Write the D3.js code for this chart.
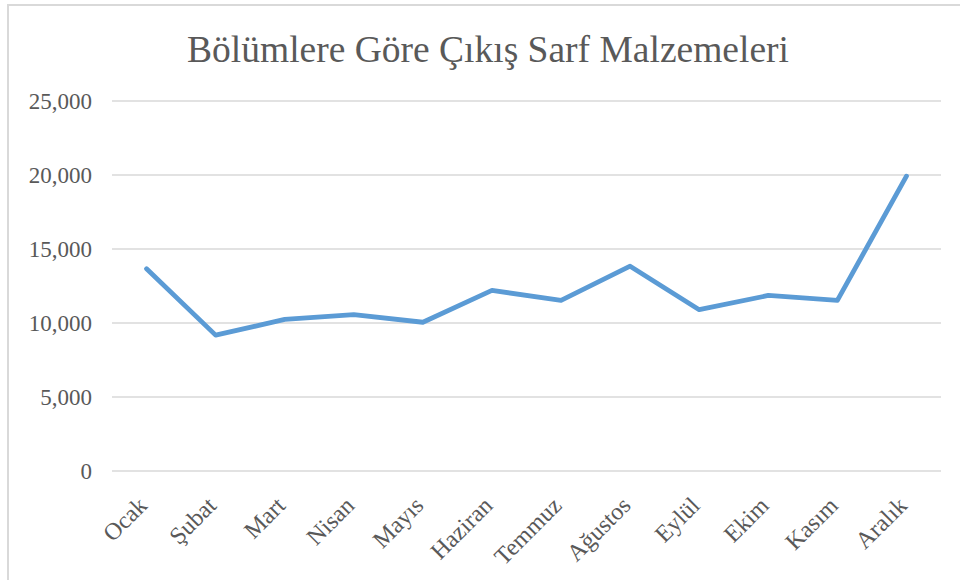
<!DOCTYPE html>
<html lang="tr">
<meta charset="UTF-8">
<style>
    body { margin: 0; background: #fff; }
    text { font-family: "Liberation Serif", "Times New Roman", serif; fill: #595959; }
    .grid line { stroke: #d9d9d9; stroke-width: 1.3; }
</style>
<body>
<div id="chart"></div>
<script src="https://cdn.jsdelivr.net/npm/d3@7"></script>
<script>
    // data
    var months = ["Ocak", "Şubat", "Mart", "Nisan", "Mayıs", "Haziran",
                  "Temmuz", "Ağustos", "Eylül", "Ekim", "Kasım", "Aralık"];
    var values = [13660, 9180, 10240, 10570, 10050, 12200,
                  11530, 13840, 10900, 11860, 11530, 19920];
    var yTicks = [0, 5000, 10000, 15000, 20000, 25000];
    var title = "Bölümlere Göre Çıkış Sarf Malzemeleri";

    var width = 960, height = 580;
    var margin = {top: 101, right: 19, bottom: 109, left: 112};

    var svg = d3.select("#chart").append("svg")
        .attr("width", width)
        .attr("height", height);

    // chart frame
    svg.append("rect")
        .attr("x", 8).attr("y", 5)
        .attr("width", 1000).attr("height", 1000)
        .attr("fill", "none")
        .attr("stroke", "#d9d9d9")
        .attr("stroke-width", 2);

    svg.append("text")
        .attr("x", 488)
        .attr("y", 62)
        .attr("text-anchor", "middle")
        .style("font-size", "37.5px")
        .text(title);

    var x = d3.scaleBand()
        .domain(months)
        .range([margin.left, width - margin.right]);

    var y = d3.scaleLinear()
        .domain([0, 25000])
        .range([height - margin.bottom, margin.top]);

    var grid = svg.append("g").attr("class", "grid");
    grid.selectAll("line")
        .data(yTicks)
        .enter().append("line")
        .attr("x1", margin.left)
        .attr("x2", width - margin.right)
        .attr("y1", function(d){ return y(d); })
        .attr("y2", function(d){ return y(d); });

    svg.append("g").selectAll("text")
        .data(yTicks)
        .enter().append("text")
        .attr("x", 92)
        .attr("y", function(d){ return y(d); })
        .attr("dy", "0.33em")
        .attr("text-anchor", "end")
        .style("font-size", "23px")
        .text(d3.format(","));

    svg.append("g").selectAll("text")
        .data(months)
        .enter().append("text")
        .attr("text-anchor", "end")
        .style("font-size", "24px")
        .attr("transform", function(d){
            var cx = x(d) + x.bandwidth() / 2 + 2;
            return "translate(" + cx + "," + (y(0) + 36) + ") rotate(-45)";
        })
        .text(function(d){ return d; });

    var line = d3.line()
        .x(function(d, i){ return x(months[i]) + x.bandwidth() / 2; })
        .y(function(d){ return y(d); });

    svg.append("path")
        .datum(values)
        .attr("fill", "none")
        .attr("stroke", "#5b9bd5")
        .attr("stroke-width", 4.8)
        .attr("stroke-linejoin", "round")
        .attr("stroke-linecap", "round")
        .attr("d", line);
</script>
</body>
</html>
